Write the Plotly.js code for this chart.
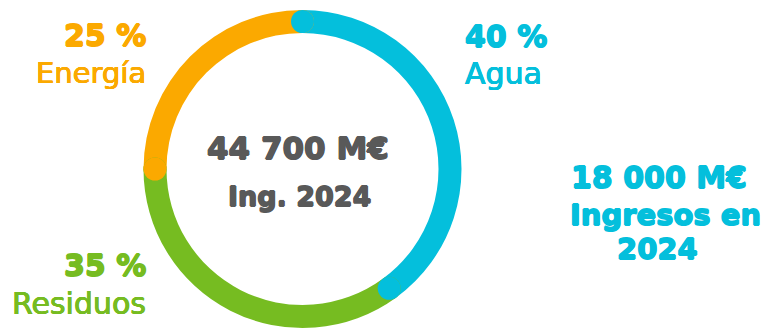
<!DOCTYPE html>
<html>
<head>
<meta charset="utf-8">
<script src="https://cdn.plot.ly/plotly-3.0.1.min.js"></script>
<style>html,body{margin:0;padding:0;background:#fff;}#chart{width:766px;height:329px;}</style>
</head>
<body>
<div id="chart"></div>
<script>
// ---- data ----
const categories = ["Agua", "Residuos", "Energía"];
const shares = [40, 35, 25];
const colors = ["#04BFDC", "#76BC21", "#FBA900"];
const pctLabels = ["40 %", "35 %", "25 %"];
const totalLabel = "44 700 M€";
const totalSub = "Ing. 2024";
const aguaLabel = ["18 000 M€", "Ingresos en", "2024"];

// ---- geometry (pixels) ----
const W = 766, H = 329;
const cx = 302.5, cy = 169, R = 159, thick = 23;
const holeFrac = (R - thick) / R;
const px = x => x / W;
const py = y => 1 - y / H;

const pie = {
  type: "pie",
  values: shares,
  labels: categories,
  marker: {colors: colors, line: {width: 0}},
  hole: holeFrac,
  sort: false,
  direction: "clockwise",
  rotation: 0,
  textinfo: "none",
  hoverinfo: "skip",
  showlegend: false,
  domain: {x: [px(cx) - 0.25, px(cx) + 0.25], y: [py(cy + R), py(cy - R)]}
};

// rounded caps at slice ends, computed from the data
const total = shares.reduce((a, b) => a + b, 0);
const starts = [];
let acc = 0;
shares.forEach(v => { starts.push(acc / total * 360); acc += v; });
const rMid = R - thick / 2;
const drawOrder = [1, 2, 0]; // Residuos, Energía, Agua (last on top)
const shapes = [];
drawOrder.forEach(i => {
  const a0 = starts[i], a1 = starts[i] + shares[i] / total * 360;
  [a0, a1].forEach(a => {
    const rad = a * Math.PI / 180;
    const x = cx + rMid * Math.sin(rad), y = cy - rMid * Math.cos(rad);
    shapes.push({
      type: "circle", layer: "above", xref: "paper", yref: "paper",
      xsizemode: "pixel", ysizemode: "pixel",
      xanchor: px(x), yanchor: py(y),
      x0: -thick / 2, x1: thick / 2, y0: -thick / 2, y1: thick / 2,
      fillcolor: colors[i], line: {width: 0}
    });
  });
});

const F = "DejaVu Sans";
function thicken(c, d) {
  return `${d}px 0 0 ${c}, -${d}px 0 0 ${c}, 0 ${d}px 0 ${c}, 0 -${d}px 0 ${c}`;
}
function ann(text, x, y, size, color, weight, xanchor) {
  return {text: text, x: px(x), y: py(y), xref: "paper", yref: "paper",
    xanchor: xanchor, yanchor: "middle", showarrow: false,
    font: {family: F, size: size, color: color, weight: weight,
      shadow: thicken(color, weight === 700 ? 0.7 : 0.4)}};
}
const grey = "#595959";
const annotations = [
  ann(totalLabel, 297.5, 147.5, 31, grey, 700, "center"),
  ann(totalSub, 299.5, 196, 27, grey, 700, "center"),
  ann(pctLabels[0], 463, 36, 30, colors[0], 700, "left"),
  ann(categories[0], 463, 74, 30, colors[0], 400, "left"),
  ann(pctLabels[2], 148, 35, 30, colors[2], 700, "right"),
  ann(categories[2], 148, 73, 29, colors[2], 400, "right"),
  ann(pctLabels[1], 148, 265, 30, colors[1], 700, "right"),
  ann(categories[1], 148, 303, 30, colors[1], 400, "right"),
  ann(aguaLabel[0], 658.5, 177, 30, colors[0], 700, "center"),
  ann(aguaLabel[1], 665, 215, 29, colors[0], 700, "center"),
  ann(aguaLabel[2], 657.5, 249, 29, colors[0], 700, "center")
];

const layout = {
  width: W, height: H,
  margin: {l: 0, r: 0, t: 0, b: 0},
  paper_bgcolor: "#ffffff", plot_bgcolor: "#ffffff",
  showlegend: false,
  shapes: shapes,
  annotations: annotations
};
Plotly.newPlot("chart", [pie], layout, {staticPlot: true, displayModeBar: false});
</script>
</body>
</html>
